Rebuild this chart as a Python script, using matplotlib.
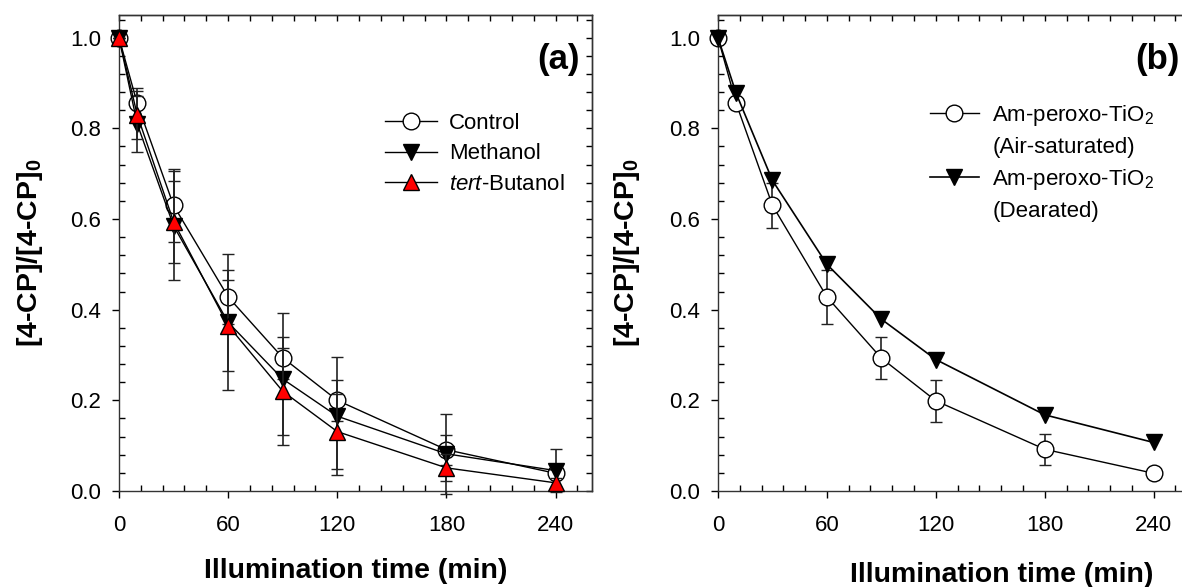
import numpy as np
import matplotlib
matplotlib.use('Agg')
import matplotlib.pyplot as plt
from matplotlib.lines import Line2D
from matplotlib.ticker import MultipleLocator, NullFormatter, FormatStrFormatter

plt.rcParams['font.family'] = ['Liberation Sans', 'DejaVu Sans']
plt.rcParams['mathtext.fontset'] = 'custom'
plt.rcParams['mathtext.rm'] = 'Liberation Sans'
plt.rcParams['mathtext.it'] = 'Liberation Sans:italic'
plt.rcParams['mathtext.bf'] = 'Liberation Sans:bold'

# temps d'illumination (min)
t = [0, 10, 30, 60, 90, 120, 180, 240]

# panel (a)
control = [1.0, 0.855, 0.63, 0.428, 0.294, 0.200, 0.091, 0.039]
control_err = [0.0, 0.035, 0.08, 0.06, 0.046, 0.045, 0.033, 0.0]
methanol = [1.0, 0.81, 0.585, 0.372, 0.247, 0.165, 0.082, 0.045]
methanol_err = [0.0, 0.062, 0.12, 0.15, 0.145, 0.13, 0.088, 0.048]
tert = [1.0, 0.83, 0.594, 0.365, 0.220, 0.131, 0.051, 0.018]
tert_err = [0.0, 0.053, 0.09, 0.10, 0.096, 0.083, 0.03, 0.01]

# panel (b)
air = [1.0, 0.855, 0.63, 0.428, 0.293, 0.199, 0.092, 0.039]
air_err = [0.0, 0.01, 0.05, 0.06, 0.047, 0.046, 0.034, 0.0]
dearated = [1.0, 0.877, 0.685, 0.50, 0.379, 0.29, 0.168, 0.107]

W, H = 1182, 587
fig = plt.figure(figsize=(W / 100, H / 100), dpi=100)

def px_axes(left, right, bottom, top):
    return fig.add_axes([left / W, (H - bottom) / H, (right - left) / W, (bottom - top) / H])

axa = px_axes(119, 592, 491, 15)
axb = px_axes(718, 1190, 491, 15)

def style_axes(ax):
    ax.set_xlim(0, 260)
    ax.set_ylim(0, 1.05)
    ax.xaxis.set_minor_locator(MultipleLocator(12))
    ax.yaxis.set_major_locator(MultipleLocator(0.2))
    ax.yaxis.set_minor_locator(MultipleLocator(0.04))
    ax.set_xticks([0, 60, 120, 180, 240])
    ax.yaxis.set_major_formatter(FormatStrFormatter('%.1f'))
    ax.tick_params(which='major', direction='out', length=5, width=1, labelsize=16,
                   colors='black')
    ax.tick_params(axis='x', which='major', pad=12)
    ax.tick_params(axis='y', which='major', pad=8)
    ax.tick_params(which='minor', direction='in', length=4, width=1)
    for s in ax.spines.values():
        s.set_linewidth(1.0)
        s.set_color('#333333')
    # petits ticks internes en haut et a droite
    sx = ax.secondary_xaxis('top')
    sx.xaxis.set_major_locator(MultipleLocator(12))
    sx.xaxis.set_major_formatter(NullFormatter())
    sx.tick_params(direction='in', length=4, width=1)
    sx.spines['top'].set_linewidth(1.0)
    sx.spines['top'].set_color('#333333')
    sy = ax.secondary_yaxis('right')
    sy.yaxis.set_major_locator(MultipleLocator(0.04))
    sy.yaxis.set_major_formatter(NullFormatter())
    sy.tick_params(direction='in', length=4, width=1)
    sy.spines['right'].set_linewidth(1.0)
    sy.spines['right'].set_color('#333333')
    ax.set_xlabel('Illumination time (min)', fontsize=20.5, fontweight='bold')
    ax.set_ylabel(r'[4-CP]/[4-CP]$_\mathbf{0}$', fontsize=20.5, fontweight='bold')

style_axes(axa)
style_axes(axb)

ms = 12
eb = dict(capsize=4, elinewidth=1.2, capthick=1.2, ecolor='#222222', lw=1.0, color='black',
          markeredgecolor='black', markeredgewidth=1.0, clip_on=False)

axa.errorbar(t, control, yerr=control_err, fmt='-o', ms=ms, mfc='white', zorder=3, **eb)
axa.errorbar(t, methanol, yerr=methanol_err, fmt='-v', ms=ms, mfc='black', zorder=4, **eb)
axa.errorbar(t, tert, yerr=tert_err, fmt='-^', ms=ms, mfc='red', zorder=5, **eb)

h = [Line2D([], [], color='black', lw=1, marker='o', ms=ms, mfc='white', mec='black'),
     Line2D([], [], color='black', lw=1, marker='v', ms=ms, mfc='black', mec='black'),
     Line2D([], [], color='black', lw=1, marker='^', ms=ms, mfc='red', mec='black')]
axa.legend(h, ['Control', 'Methanol', r'$\it{tert}$-Butanol'], loc='upper left',
           bbox_to_anchor=((385 - 119) / 473, (491 - 113) / 476), frameon=False, fontsize=16,
           handlelength=2.34, handletextpad=0.54, labelspacing=0.42, borderaxespad=0, borderpad=0)
axa.text((580 - 119) / 473, (491 - 60) / 476, '(a)', transform=axa.transAxes, fontsize=25,
         fontweight='bold', ha='right', va='center')

axb.errorbar(t, air, yerr=air_err, fmt='-o', ms=ms, mfc='white', zorder=3, **eb)
axb.plot(t, dearated, '-v', ms=ms, color='black', mfc='black', mec='black', lw=1.2,
         zorder=4, clip_on=False)

hb = [Line2D([], [], color='black', lw=1, marker='o', ms=ms, mfc='white', mec='black'),
      Line2D([], [], color='none'),
      Line2D([], [], color='black', lw=1.2, marker='v', ms=ms, mfc='black', mec='black'),
      Line2D([], [], color='none')]
axb.legend(hb, [r'Am-peroxo-TiO$_2$', '(Air-saturated)', r'Am-peroxo-TiO$_2$', '(Dearated)'],
           loc='upper left', bbox_to_anchor=((930 - 718) / 472, (491 - 103) / 476), frameon=False,
           fontsize=16, handlelength=2.2, handletextpad=0.6, labelspacing=0.41,
           borderaxespad=0, borderpad=0)
axb.text((1180 - 718) / 472, (491 - 60) / 476, '(b)', transform=axb.transAxes, fontsize=25,
         fontweight='bold', ha='right', va='center')

axa.xaxis.set_label_coords(0.5, -0.14)
axb.xaxis.set_label_coords((1002 - 718) / 472, -0.15)
axa.yaxis.set_label_coords(-0.156, 0.5)
axb.yaxis.set_label_coords(-0.161, 0.5)

fig.savefig('out.png', dpi=100)
